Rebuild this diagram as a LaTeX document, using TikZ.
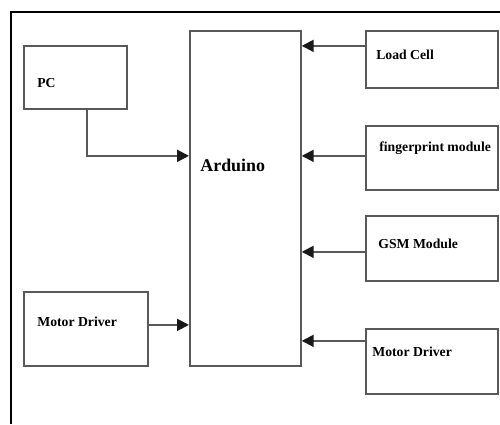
\documentclass[tikz,border=0pt]{standalone}
\usepackage{fontspec}
\setmainfont{Liberation Serif}
\usetikzlibrary{arrows.meta}

\begin{document}
\begin{tikzpicture}[x=0.02cm, y=-0.02cm,
      every node/.append style={font=\bfseries\fontsize{7.8}{9}\selectfont},
      box/.style={draw=black!65, line width=1pt, rectangle, inner sep=0pt, anchor=north west},
      link/.style={draw=black!65, line width=1.1pt, -{Triangle[length=0.24cm,width=0.24cm,color=black!90]}}]
    \tikzstyle{word} = [anchor=base west, text=black, inner sep=0pt]
    \useasboundingbox (0,0) rectangle (500,424);
    % outer frame, open at right and bottom
    \draw[line width=0.6pt] (500,12) -- (11,12) -- (11,424);
    % blocks
    \node (pc) [box, minimum width=2.06cm, minimum height=1.26cm] at (23,45) {};
    \node (mdl) [box, minimum width=2.48cm, minimum height=1.48cm] at (23,291) {};
    \node (ard) [box, minimum width=2.22cm, minimum height=6.70cm] at (189,30) {};
    \node (lc) [box, minimum width=2.64cm, minimum height=1.14cm] at (365,30) {};
    \node (fp) [box, minimum width=2.64cm, minimum height=1.28cm] at (365,125) {};
    \node (gsm) [box, minimum width=2.64cm, minimum height=1.30cm] at (365,215) {};
    \node (mdr) [box, minimum width=2.64cm, minimum height=1.30cm] at (365,328) {};
    % texts
    \node [word] (pc_word) at ([shift={(14,42)}]pc.north west) {PC};
    \node [word] (mdl_word) at ([shift={(14,35)}]mdl.north west) {Motor Driver};
    \node [word, font=\bfseries\fontsize{10.2}{12}\selectfont] (ard_word) at ([shift={(11,141)}]ard.north west) {Arduino};
    \node [word] (lc_word) at ([shift={(11,29)}]lc.north west) {Load Cell};
    \node [word] (fp_word) at ([shift={(14,26)}]fp.north west) {fingerprint module};
    \node [word] (gsm_word) at ([shift={(13,33)}]gsm.north west) {GSM Module};
    \node [word] (mdr_word) at ([shift={(7,28)}]mdr.north west) {Motor Driver};
    % links
    \draw[link] ([xshift=0.23cm]pc.south) |- ([yshift=0.85cm]ard.west);
    \draw[link] ([yshift=0.08cm]mdl.east) coordinate (mdl_out) -- (mdl_out -| ard.west);
    \draw[link] ([yshift=0.27cm]lc.west) coordinate (lc_out) -- (lc_out -| ard.east);
    \draw[link] ([yshift=0.04cm]fp.west) coordinate (fp_out) -- (fp_out -| ard.east);
    \draw[link] ([yshift=-0.07cm]gsm.west) coordinate (gsm_out) -- (gsm_out -| ard.east);
    \draw[link] ([yshift=0.41cm]mdr.west) coordinate (mdr_out) -- (mdr_out -| ard.east);
\end{tikzpicture}
\end{document}
